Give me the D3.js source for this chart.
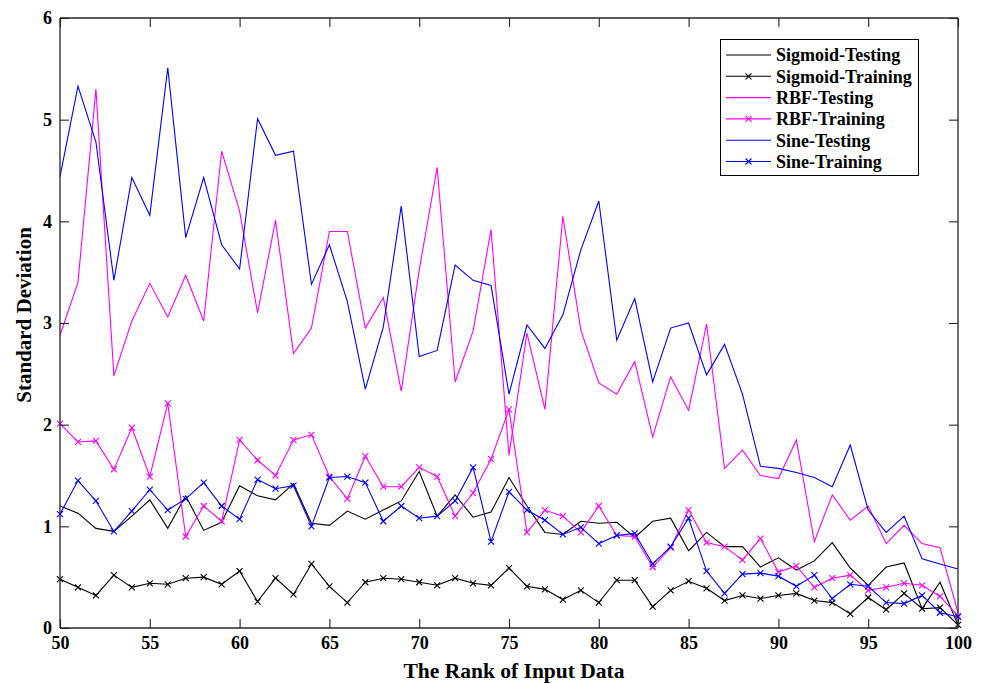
<!DOCTYPE html>
<html><head><meta charset="utf-8">
<script src="https://cdn.jsdelivr.net/npm/d3@7"></script>
<style>body{margin:0;background:#fff}svg{display:block}text{font-family:"Liberation Serif","Times New Roman",serif;font-weight:bold}</style>
</head><body>
<script>
const ranks = d3.range(50, 101);
const sigmoidTesting = [1.20,1.13,0.98,0.95,1.10,1.26,0.98,1.30,0.96,1.04,1.40,1.30,1.26,1.42,1.03,1.01,1.15,1.07,1.16,1.25,1.54,1.10,1.31,1.09,1.14,1.48,1.20,0.94,0.92,1.05,1.03,1.04,0.89,1.05,1.08,0.76,0.94,0.80,0.80,0.60,0.69,0.57,0.66,0.84,0.59,0.42,0.60,0.64,0.19,0.45,0.03];
const sigmoidTraining = [0.48,0.40,0.32,0.52,0.40,0.44,0.43,0.49,0.50,0.43,0.56,0.26,0.49,0.33,0.63,0.41,0.25,0.45,0.49,0.48,0.45,0.42,0.49,0.44,0.42,0.59,0.41,0.38,0.28,0.37,0.25,0.47,0.47,0.21,0.37,0.46,0.39,0.27,0.32,0.29,0.32,0.34,0.27,0.25,0.14,0.30,0.18,0.34,0.19,0.20,0.03];
const rbfTesting = [2.88,3.40,5.30,2.48,3.02,3.39,3.06,3.47,3.02,4.69,4.10,3.10,4.01,2.70,2.95,3.90,3.90,2.95,3.25,2.33,3.52,4.53,2.42,2.92,3.92,1.70,2.90,2.15,4.05,2.93,2.41,2.30,2.62,1.88,2.47,2.14,2.99,1.57,1.75,1.50,1.47,1.85,0.85,1.31,1.06,1.20,0.83,1.01,0.83,0.79,0.15];
const rbfTraining = [2.01,1.83,1.84,1.56,1.97,1.49,2.21,0.90,1.20,1.05,1.85,1.65,1.50,1.85,1.90,1.49,1.27,1.69,1.39,1.39,1.58,1.49,1.10,1.33,1.66,2.15,0.94,1.16,1.10,0.94,1.20,0.91,0.90,0.60,0.79,1.16,0.84,0.80,0.67,0.88,0.55,0.61,0.40,0.49,0.52,0.37,0.40,0.44,0.42,0.31,0.12];
const sineTesting = [4.44,5.33,4.78,3.42,4.43,4.06,5.51,3.84,4.43,3.77,3.53,5.01,4.65,4.69,3.38,3.77,3.21,2.35,2.96,4.15,2.67,2.73,3.57,3.42,3.37,2.30,2.98,2.75,3.08,3.72,4.20,2.83,3.24,2.42,2.95,3.00,2.49,2.79,2.30,1.59,1.57,1.53,1.48,1.39,1.80,1.16,0.94,1.10,0.68,0.63,0.58];
const sineTraining = [1.12,1.45,1.25,0.95,1.15,1.36,1.16,1.27,1.43,1.20,1.07,1.46,1.37,1.40,1.00,1.48,1.49,1.43,1.05,1.20,1.08,1.10,1.25,1.58,0.85,1.34,1.16,1.06,0.92,0.99,0.83,0.91,0.93,0.63,0.80,1.08,0.56,0.34,0.53,0.54,0.51,0.41,0.52,0.29,0.43,0.41,0.25,0.24,0.32,0.15,0.11];
const xTicks = [50,55,60,65,70,75,80,85,90,95,100];
const yTicks = [0,1,2,3,4,5,6];
const seriesNames = ["Sigmoid-Testing","Sigmoid-Training","RBF-Testing","RBF-Training","Sine-Testing","Sine-Training"];
const seriesColors = ["#000000","#000000","#ff00ff","#ff00ff","#0000ff","#0000ff"];
const seriesMarkers = [false,true,false,true,false,true];
const seriesValues = [sigmoidTesting,sigmoidTraining,rbfTesting,rbfTraining,sineTesting,sineTraining];

(function(){
const W = 986, H = 684;
const m = {left:60, right:28, top:18, bottom:56};
const svg = d3.select("body").append("svg").attr("width",W).attr("height",H);
const x = d3.scaleLinear().domain([50,100]).range([m.left, W-m.right]);
const y = d3.scaleLinear().domain([0,6]).range([H-m.bottom, m.top]);
const x0 = x.range()[0], x1 = x.range()[1], y0 = y.range()[0], y1 = y.range()[1];

const line = d3.line().x((d,i)=>x(ranks[i])).y(d=>y(d));
const g = svg.append("g");
seriesValues.forEach((vals,k)=>{
  g.append("path").attr("d", line(vals)).attr("fill","none")
    .attr("stroke", seriesColors[k]).attr("stroke-width",1.1).attr("stroke-linejoin","miter");
  if (seriesMarkers[k]) {
    const s = 3;
    g.append("g").selectAll("path").data(vals).join("path")
      .attr("d",(d,i)=>{const px=x(ranks[i]), py=y(d); return `M${px-s},${py-s}L${px+s},${py+s}M${px-s},${py+s}L${px+s},${py-s}`;})
      .attr("stroke", seriesColors[k]).attr("stroke-width",1.1);
  }
});

const axCol = "#262626";
const tl = 9;
const axB = svg.append("g").attr("transform",`translate(0,${y0})`)
  .call(d3.axisBottom(x).tickValues(xTicks).tickSize(-tl).tickPadding(8).tickFormat(d3.format("d")));
const axT = svg.append("g").attr("transform",`translate(0,${y1})`)
  .call(d3.axisTop(x).tickValues(xTicks).tickSize(-tl).tickFormat(""));
const axL = svg.append("g").attr("transform",`translate(${x0},0)`)
  .call(d3.axisLeft(y).tickValues(yTicks).tickSize(-tl).tickPadding(8).tickFormat(d3.format("d")));
const axR = svg.append("g").attr("transform",`translate(${x1},0)`)
  .call(d3.axisRight(y).tickValues(yTicks).tickSize(-tl).tickFormat(""));
[axB,axT,axL,axR].forEach(a=>{
  a.select(".domain").attr("stroke",axCol).attr("stroke-width",1.3);
  a.selectAll(".tick line").attr("stroke",axCol).attr("stroke-width",1.1);
  a.selectAll("text").attr("fill","#000").style("font-size","18px").style("font-family","'Liberation Serif',serif").style("font-weight","bold");
});
axB.select("path.domain").attr("d",`M${x0},0H${x1}`);
axT.select("path.domain").attr("d",`M${x0},0H${x1}`);
axL.select("path.domain").attr("d",`M0,${y0}V${y1}`);
axR.select("path.domain").attr("d",`M0,${y0}V${y1}`);

svg.append("text").attr("x",514).attr("y",677.5).attr("text-anchor","middle")
  .style("font-size","21.5px").text("The Rank of Input Data");
svg.append("text").attr("transform",`translate(31,315) rotate(-90)`).attr("text-anchor","middle")
  .style("font-size","21px").text("Standard Deviation");

const lg = svg.append("g");
lg.append("rect").attr("x",720.5).attr("y",39.5).attr("width",198).attr("height",136)
  .attr("fill","#fff").attr("stroke","#000").attr("stroke-width",1);
seriesNames.forEach((n,k)=>{
  const cy = 55 + k*21.3;
  lg.append("line").attr("x1",726).attr("x2",771).attr("y1",cy).attr("y2",cy)
    .attr("stroke",seriesColors[k]).attr("stroke-width",1.1);
  if (seriesMarkers[k]) {
    const s=3, px=748.5;
    lg.append("path").attr("d",`M${px-s},${cy-s}L${px+s},${cy+s}M${px-s},${cy+s}L${px+s},${cy-s}`)
      .attr("stroke",seriesColors[k]).attr("stroke-width",1.1);
  }
  lg.append("text").attr("x",776).attr("y",cy).attr("dy","0.35em")
    .style("font-size","18px").text(n);
});
})();
</script>
</body></html>
